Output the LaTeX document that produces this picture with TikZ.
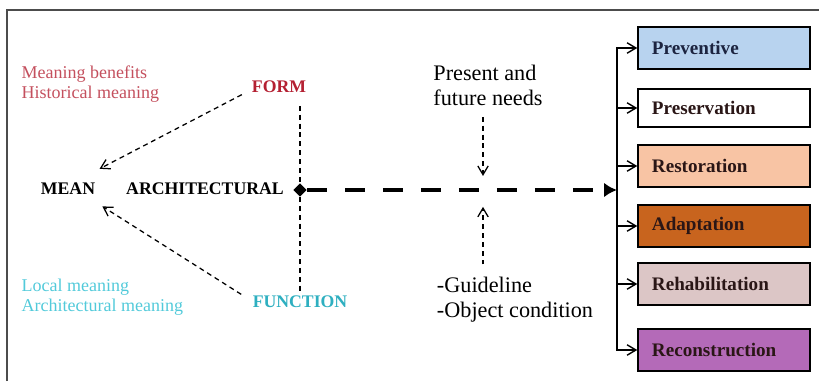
\documentclass[tikz,border=0pt]{standalone}
\usepackage{fontspec}
\setmainfont{Liberation Serif}
\usetikzlibrary{arrows.meta,shapes.geometric}

\definecolor{formred}{HTML}{B42032}
\definecolor{formpink}{HTML}{C4505E}
\definecolor{funccyan}{HTML}{2EAFC0}
\definecolor{funclight}{HTML}{52CADA}
\definecolor{boxtext}{HTML}{2A1616}
\definecolor{prevtext}{HTML}{1C2440}
\definecolor{fillprev}{HTML}{B8D3EF}
\definecolor{fillrest}{HTML}{F8C4A4}
\definecolor{filladap}{HTML}{C8641E}
\definecolor{fillreha}{HTML}{DCC6C6}
\definecolor{fillreco}{HTML}{B46AB8}

\begin{document}
\begin{tikzpicture}[
    x=0.025cm, y=-0.025cm,
    >={Straight Barb[length=2.2mm, width=2.6mm]},
    thindash/.style = {line width=0.9pt, dash pattern=on 3.5pt off 2.8pt},
    thickdash/.style = {line width=3.4pt, dash pattern=on 14pt off 13pt},
    branch/.style   = {line width=1pt},
    word/.style     = {font=\fontsize{12.8}{14}\selectfont, inner sep=1pt},
    key/.style      = {font=\fontsize{12.6}{15}\selectfont\bfseries, inner sep=1pt},
    note/.style     = {font=\fontsize{15.8}{17.8}\selectfont, inner sep=1pt, align=left},
    box/.style      = {draw, line width=1pt, minimum width=4.3cm, minimum height=1.05cm,
                       text width=3.6cm, inner xsep=0.35cm, align=left, text=boxtext,
                       font=\fontsize{13.6}{15}\selectfont\bfseries}
]
\useasboundingbox (0,0) rectangle (819,381);

% page frame
\draw[line width=1pt, black!70] (7,381) -- (7,10) -- (819,10);

% left part: meaning of the building
\node[word, anchor=west, align=left, text=formpink] (hist) at (20,84)
    {Meaning benefits\\Historical meaning};
\node[word, anchor=west, align=left, text=funclight] (local) at (20,297)
    {Local meaning\\Architectural meaning};
\node[key, text=formred] (form) at (279,87) {FORM};
\node[key, text=funccyan] (function) at (300,302) {FUNCTION};
\node[key] (mean) at (68,189) {MEAN};
\node[key] (arch) at (205,189) {ARCHITECTURAL};
\node[diamond, fill, inner sep=2.4pt] (hub) at (300,190) {};

\draw[thindash, ->] ([xshift=-6pt]form.south west) -- ([xshift=2pt, yshift=9pt]mean.north east);
\draw[thindash, ->] ([xshift=-7pt]function.north west) -- ([xshift=4pt, yshift=-7pt]mean.south east);
\draw[thindash, shorten <=8pt] (hub |- form.south) -- (hub);
\draw[thindash] (hub) -- (hub |- function.north);

% main axis
\coordinate (trunk) at (617,190);
\coordinate (meet) at (483,190);
\draw[thickdash, -{Latex[length=3.2mm, width=3.6mm]}] (hub) -- (trunk);

\node[note] (needs) at (488,85) {Present and\\future needs};
\node[note] (guide) at (515,300) {-Guideline\\-Object condition};
\draw[thindash, ->, shorten <=7pt, shorten >=10pt] (needs.south -| meet) -- (meet);
\draw[thindash, ->, shorten <=8pt, shorten >=12pt] (guide.north -| meet) -- (meet);

% interventions
\node[box, fill=fillprev, text=prevtext] (prev) at (724,48) {Preventive};
\node[box, fill=white, minimum height=0.95cm] (pres) at (724,108) {Preservation};
\node[box, fill=fillrest] (rest) at (724,166) {Restoration};
\node[box, fill=filladap] (adap) at (724,226) {Adaptation};
\node[box, fill=fillreha] (reha) at (724,284) {Rehabilitation};
\node[box, fill=fillreco] (reco) at (724,350) {Reconstruction};

\foreach \b in {prev,pres,rest,adap,reha,reco}
    \draw[branch, ->] (trunk) |- (\b.west);

\end{tikzpicture}
\end{document}
